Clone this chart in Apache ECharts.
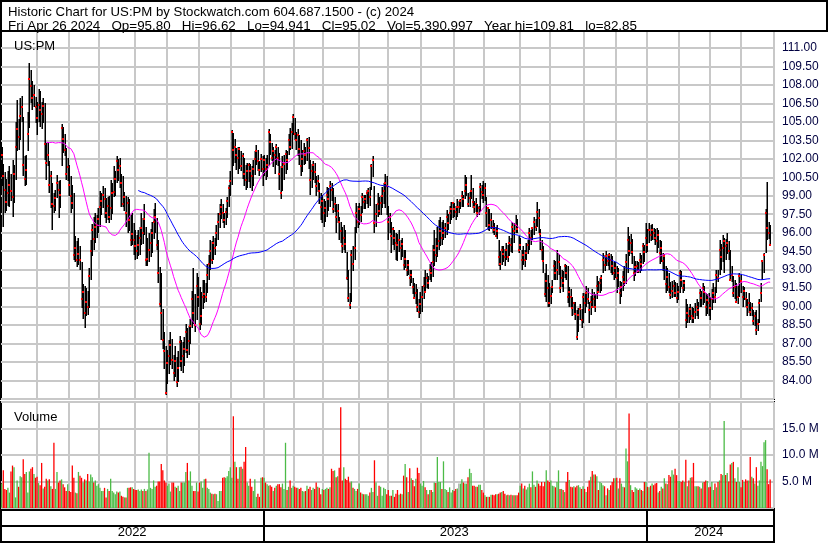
<!DOCTYPE html>
<html>
<head>
<meta charset="utf-8">
<style>
html,body{margin:0;padding:0;background:#fff;}
#chart{width:830px;height:543px;}
</style>
<script src="https://cdn.jsdelivr.net/npm/echarts@6/dist/echarts.min.js"></script>
</head>
<body>
<div id="chart"></div>
<script>
// ---------- DATA ----------
const titleLine1 = "Historic Chart for US:PM by Stockwatch.com 604.687.1500 - (c) 2024";
const titleLine2 = "Fri Apr 26 2024   Op=95.80   Hi=96.62   Lo=94.941   Cl=95.02   Vol=5,390,997   Year hi=109.81   lo=82.85";
const symbolLabel = "US:PM";
const volumeLabel = "Volume";

// trading calendar: first and last session, and exchange holidays in between
const firstDay = "2022-04-28";
const lastDay = "2024-04-26";
const padDays = ["2024-04-29", "2024-04-30"];
const holidays = ["2022-05-30","2022-06-20","2022-07-04","2022-09-05","2022-11-24","2022-12-26",
  "2023-01-02","2023-01-16","2023-02-20","2023-04-07","2023-05-29","2023-06-19","2023-07-04",
  "2023-09-04","2023-11-23","2023-12-25","2024-01-01","2024-01-15","2024-02-19","2024-03-29"];

const close = [
102.3,100.6,99.5,98.5,99.2,99.9,99.4,98.9,100.8,103.0,
104.4,103.8,105.5,106.2,101.5,100.4,101.1,104.0,108.5,107.9,
106.9,107.2,106.2,105.3,106.4,106.0,105.6,106.3,103.2,101.7,
102.3,99.9,100.6,98.3,98.2,98.8,100.0,99.5,99.1,104.5,
103.6,102.7,100.8,101.3,99.9,99.0,98.4,94.2,94.8,93.8,
94.3,93.8,90.6,91.2,89.5,90.4,90.0,92.5,94.5,96.2,
95.5,96.5,96.6,97.1,98.1,98.6,99.1,98.7,97.6,98.2,
97.3,98.0,99.2,99.3,100.4,101.8,101.1,101.4,100.0,98.3,
98.9,97.6,98.4,97.0,95.4,95.9,95.4,94.9,94.5,95.0,
95.6,96.4,96.0,97.1,93.8,93.9,94.6,95.2,96.0,96.9,
97.3,95.0,92.7,90.2,89.5,87.3,86.4,83.0,85.4,86.0,
86.9,85.7,84.6,85.6,83.9,85.0,87.1,85.6,86.0,86.6,
87.9,86.5,87.2,88.4,90.6,89.5,88.5,91.7,90.8,88.6,
89.2,90.8,91.0,90.8,92.6,93.5,94.5,93.8,95.2,94.8,
96.0,96.9,97.5,98.1,97.6,97.0,97.7,98.6,99.6,100.2,
104.2,102.7,103.0,102.3,102.1,102.8,101.4,102.2,100.8,100.3,
101.0,101.5,101.0,100.6,101.2,102.0,102.6,101.8,101.1,102.0,
101.2,101.9,101.2,101.5,104.2,103.4,102.1,102.6,102.3,103.0,
102.1,100.8,99.2,101.3,101.6,102.4,101.9,103.5,103.0,104.2,
105.4,104.0,103.5,103.9,102.8,101.4,102.0,102.6,102.3,103.5,
102.9,100.3,101.0,101.5,100.9,99.8,100.2,99.4,98.1,98.6,
97.6,98.0,99.1,98.7,99.8,99.5,97.9,98.3,97.3,97.8,
96.9,96.1,94.9,95.6,95.1,92.3,90.7,90.1,94.2,93.5,
94.8,97.6,96.9,97.9,97.4,98.9,98.5,98.7,99.2,99.35,
98.9,101.4,101.9,96.8,97.5,98.3,97.8,98.4,99.0,99.35,
100.0,99.8,96.9,97.3,95.7,96.3,95.6,95.2,95.0,95.4,
94.8,95.1,93.4,93.9,93.0,93.4,92.3,92.6,91.6,90.7,
91.1,90.0,89.6,90.2,90.8,91.65,91.2,92.3,91.9,93.0,
92.7,93.6,94.6,94.2,94.9,95.3,96.1,95.6,96.0,96.4,
97.3,96.8,97.6,97.9,98.4,97.9,97.7,98.1,98.1,98.6,
99.0,98.7,99.35,99.9,98.3,98.8,99.35,98.5,98.1,98.3,
97.6,98.0,99.75,99.3,99.1,99.6,97.6,98.0,96.65,97.0,
96.5,96.2,95.75,96.1,94.0,93.5,94.6,94.3,94.0,94.6,
94.0,95.2,95.0,96.5,96.1,96.65,96.3,94.6,95.0,93.8,
94.2,93.8,94.35,95.0,96.0,95.6,96.4,96.9,96.5,97.7,
97.2,95.9,94.6,93.7,91.0,92.05,91.5,90.3,90.9,91.6,
93.3,92.7,93.0,93.6,91.5,92.3,91.9,93.3,92.7,90.8,
91.2,90.8,89.9,90.3,89.4,87.5,89.35,89.8,88.95,90.8,
90.3,91.1,90.6,89.75,90.4,90.0,90.6,90.0,91.65,91.2,
91.9,92.3,93.8,93.4,94.1,93.7,94.2,93.8,93.3,92.7,
93.1,92.3,92.7,91.1,91.6,92.4,92.0,93.6,95.4,94.5,
95.2,94.4,92.7,93.2,93.3,92.9,93.8,93.5,94.9,94.4,
95.6,95.0,96.2,95.8,96.2,96.0,95.6,95.3,95.8,94.35,
94.8,93.7,94.1,91.8,92.4,91.6,90.95,91.3,91.65,91.1,
90.7,91.2,92.7,92.2,91.5,91.9,88.95,89.5,89.2,89.8,
89.2,89.1,89.6,90.0,89.7,91.1,90.7,91.5,91.2,90.0,
90.5,90.3,89.9,90.6,91.1,90.8,92.6,92.3,94.6,94.0,
94.8,95.3,94.9,95.2,94.5,92.2,92.6,91.1,91.6,90.4,
90.8,92.5,92.1,90.8,91.3,90.6,90.0,90.3,89.6,89.9,
88.8,89.2,88.1,88.6,90.3,91.1,93.7,94.2,97.6,96.4,96.0,95.02];

const high = [
103.0,101.6,100.9,100.4,101.0,101.4,100.8,101.9,101.5,105.0,
106.8,105.2,106.9,107.1,105.4,102.2,102.3,105.8,109.81,109.2,
108.3,108.0,107.0,106.6,107.7,107.5,106.6,106.9,106.5,103.3,
103.4,101.8,101.0,100.0,99.2,99.5,100.7,100.2,100.3,104.8,
104.6,104.0,102.9,102.1,101.5,100.6,99.9,99.2,95.7,95.3,
95.6,94.9,93.6,91.8,91.7,91.5,91.3,93.1,95.4,96.7,
97.3,97.6,97.4,98.0,99.35,99.2,99.8,99.6,98.8,98.9,
99.0,100.3,100.0,101.4,101.0,102.2,102.0,102.1,100.8,100.6,
99.3,99.0,98.9,98.7,97.4,97.6,96.8,96.2,95.8,96.2,
96.5,97.6,97.2,98.3,96.5,95.6,96.0,96.3,96.9,97.9,
98.4,97.2,95.4,93.2,92.7,89.8,87.9,86.8,86.5,87.3,
87.9,87.4,86.1,86.8,85.9,86.4,87.6,87.3,87.1,87.5,
88.6,88.3,88.4,89.0,91.3,93.1,91.0,92.7,92.4,91.6,
91.2,92.2,92.2,91.9,93.5,94.2,95.4,95.3,95.7,95.6,
96.6,97.6,98.3,98.7,98.3,97.6,98.0,98.9,99.9,101.0,
104.3,104.1,103.6,102.9,103.0,103.0,102.6,102.5,102.1,101.5,
101.7,101.65,101.6,101.4,101.9,102.6,103.1,102.7,101.8,102.4,
102.2,102.3,102.1,102.3,104.4,104.0,103.3,103.0,102.7,103.2,
103.0,102.5,101.4,102.2,102.3,102.7,102.6,104.0,104.5,104.9,
105.6,105.3,104.2,104.4,103.9,103.5,102.7,103.3,103.0,103.7,
103.8,101.9,101.6,101.8,101.7,100.6,100.7,100.0,99.2,99.1,
98.7,98.6,99.75,99.6,100.2,100.0,99.6,98.9,98.3,98.3,
97.3,96.9,96.5,96.6,96.2,94.4,93.0,91.1,94.6,94.9,
96.5,98.4,98.2,98.4,98.2,99.2,99.1,99.1,99.5,99.6,
99.7,101.6,102.2,99.8,98.3,99.2,98.9,99.0,99.75,100.0,
100.8,100.6,98.2,97.6,96.9,96.5,96.2,96.0,95.9,96.2,
95.4,95.6,94.6,94.6,93.8,93.8,93.0,93.0,92.3,91.9,
91.8,91.4,90.6,91.2,91.65,92.4,93.0,92.7,92.5,93.5,
93.6,95.0,96.2,95.6,96.5,97.0,97.3,96.9,97.05,96.8,
97.85,97.5,98.2,98.5,98.5,98.4,98.2,98.7,98.6,98.7,
99.4,99.1,100.7,100.5,99.2,99.3,100.7,99.6,98.6,98.8,
98.3,98.2,100.0,99.9,100.2,100.0,98.9,98.1,97.9,97.6,
97.05,96.8,96.5,96.6,95.4,94.5,94.9,94.9,94.7,95.2,
95.0,95.7,95.6,96.9,96.8,97.45,97.1,95.7,95.6,94.6,
94.9,94.6,95.2,95.4,96.4,96.2,96.5,97.3,97.1,98.5,
97.9,96.3,95.4,94.9,92.7,93.5,92.6,91.9,91.6,92.2,
93.8,93.7,94.6,94.3,93.3,93.0,92.9,93.5,93.4,93.3,
91.6,91.4,90.8,90.3,90.4,89.75,89.9,90.2,89.8,91.1,
91.1,91.65,91.5,90.4,90.9,91.4,91.2,91.0,92.45,92.1,
92.3,92.6,94.35,94.2,94.5,94.3,94.35,94.3,94.1,93.6,
93.6,93.3,93.1,92.05,92.0,92.9,93.3,94.3,96.5,95.7,
95.9,95.5,94.1,93.7,93.7,93.6,94.35,94.2,95.2,95.0,
96.8,96.3,96.8,96.6,96.7,96.4,96.3,96.4,96.2,95.4,
95.3,94.35,94.3,93.3,93.1,92.7,92.0,92.1,92.2,92.0,
91.9,91.7,93.0,92.9,92.2,92.2,90.6,90.2,90.0,90.2,
90.0,89.9,90.3,90.6,90.4,91.4,91.3,91.9,91.7,91.1,
91.0,91.1,90.8,91.4,91.9,91.6,93.0,93.0,95.4,95.1,
95.8,95.6,95.5,96.0,95.3,94.6,93.3,92.45,92.2,91.9,
91.7,92.7,92.6,91.65,91.6,91.2,90.6,91.1,90.4,90.3,
89.75,89.6,89.75,89.0,90.6,91.9,93.8,94.35,97.9,100.1,96.9,96.62];

const low = [
99.8,96.5,97.6,97.8,98.2,98.1,98.6,97.3,98.4,100.3,
102.6,102.7,103.5,105.0,100.6,99.8,99.9,102.6,104.5,106.5,
106.0,106.2,104.9,103.9,105.0,104.6,104.4,104.9,101.9,100.3,
101.4,99.2,98.0,96.2,97.6,97.8,98.8,97.2,98.0,101.4,
102.5,102.2,100.3,100.2,99.0,97.6,97.9,93.8,93.6,93.2,
93.4,93.0,89.9,89.0,88.3,89.2,89.3,89.9,92.2,94.1,
94.6,95.2,95.6,96.0,96.5,97.4,98.0,97.2,96.8,97.0,
96.8,97.0,97.5,98.9,99.0,100.0,100.2,99.6,98.1,98.1,
97.8,96.5,96.0,96.1,94.9,95.0,94.2,93.8,93.9,94.1,
94.2,95.0,95.1,95.8,93.3,93.3,93.6,94.0,94.35,95.5,
96.0,94.6,91.9,90.0,87.3,86.6,84.9,82.85,83.7,84.5,
85.3,84.9,84.0,84.3,83.5,83.9,85.1,84.8,84.6,85.2,
86.2,85.8,86.1,87.0,88.3,88.6,87.9,88.9,90.0,88.1,
88.5,89.8,90.3,90.4,91.1,92.2,93.0,93.5,93.8,94.2,
94.9,95.4,96.4,97.1,96.8,96.4,96.6,97.2,98.1,99.0,
99.9,101.4,101.7,101.1,100.8,101.2,101.0,100.4,99.8,99.5,
99.6,100.1,99.6,99.35,99.8,100.7,101.5,101.0,100.6,100.9,
99.8,100.6,100.3,100.5,101.4,102.3,101.8,101.3,100.8,101.5,
101.4,99.5,98.7,99.4,100.3,100.8,101.1,102.3,102.7,102.8,
103.9,103.5,102.7,102.2,101.5,100.6,100.9,101.5,101.6,101.8,
101.2,99.1,99.6,100.3,100.0,99.0,99.3,98.3,97.0,96.8,
96.5,96.9,97.3,97.8,98.1,98.6,97.6,97.7,96.0,96.8,
95.4,95.2,94.35,94.6,94.35,92.2,90.4,89.8,90.4,92.9,
93.8,96.0,96.4,96.65,96.9,97.6,97.9,97.9,98.3,98.0,
98.2,99.5,100.5,96.0,96.5,97.3,97.4,97.45,98.0,98.3,
98.0,97.4,95.4,96.0,94.35,95.0,94.6,93.8,93.7,94.4,
93.8,94.0,93.0,93.1,92.5,92.6,91.65,91.9,91.0,90.6,
90.2,89.6,89.1,89.4,89.6,90.6,91.1,91.5,91.4,92.2,
92.0,92.4,93.3,93.6,94.0,94.6,94.9,95.0,95.4,95.6,
95.8,96.2,96.7,97.05,97.2,97.3,97.0,97.3,97.6,97.9,
98.1,98.1,98.7,99.0,98.1,98.1,98.7,98.0,97.6,97.7,
97.3,97.4,97.7,98.7,98.4,98.6,96.5,96.2,96.1,96.3,
96.0,95.8,95.7,95.5,93.3,93.0,93.4,93.6,93.3,93.8,
93.6,94.1,94.4,94.35,95.2,96.0,96.0,94.35,94.6,93.0,
93.4,93.2,93.8,94.3,94.6,95.0,95.4,95.8,96.1,96.5,
96.0,94.6,93.8,92.7,90.8,90.4,90.0,90.0,90.2,91.1,
92.2,92.2,92.2,92.6,91.1,91.6,91.2,92.3,92.2,90.3,
90.0,90.0,89.2,89.3,88.9,87.3,87.9,88.9,88.3,88.7,
89.5,90.0,90.2,88.65,89.3,89.9,89.9,89.6,90.6,91.1,
91.1,91.3,92.7,92.9,93.3,93.3,93.0,92.7,92.6,92.2,
92.3,91.1,91.6,90.2,90.8,91.3,91.65,91.8,92.7,94.1,
94.3,93.5,92.05,92.5,92.7,92.7,92.7,92.9,93.5,93.6,
94.35,94.4,95.2,95.3,95.4,95.4,95.0,94.35,94.8,93.5,
93.6,92.9,92.2,91.1,91.3,91.1,90.6,90.7,90.8,90.8,
90.3,90.5,91.1,91.6,91.1,91.3,88.3,88.7,88.65,88.9,
88.65,88.7,89.0,89.2,89.0,90.0,90.0,90.1,90.3,89.2,
89.4,89.2,88.95,89.7,90.3,90.3,91.1,92.0,92.6,93.0,
93.6,92.7,93.8,94.3,93.8,92.2,92.0,90.8,90.6,90.3,
90.2,90.8,91.1,90.0,90.5,90.0,89.2,89.5,89.2,89.2,
88.5,88.4,87.7,88.0,88.65,90.4,92.2,92.7,94.35,95.4,95.5,94.94];

// volume in millions of shares
const volume = [
4.6,7.1,3.6,3.4,3.8,2.9,6.9,8.0,7.7,2.0,
5.2,4.0,6.0,5.8,9.2,6.4,6.8,2.9,6.9,7.4,
7.7,6.4,5.7,5.9,4.7,4.3,8.5,3.7,4.0,5.5,
5.2,5.4,4.1,3.6,12.3,3.6,6.8,4.8,5.2,5.4,
4.5,3.9,3.2,4.5,3.2,3.0,8.0,5.7,2.9,2.8,
6.8,6.1,5.7,4.8,5.4,5.2,6.4,5.0,6.3,5.8,
4.8,5.2,4.2,4.5,3.8,3.2,3.2,3.8,2.0,3.6,
3.2,5.5,3.2,2.9,2.6,3.1,2.9,3.1,2.3,2.1,
2.0,2.0,3.8,3.8,3.9,3.9,3.6,3.4,3.4,3.5,
3.2,3.5,3.2,3.6,3.2,3.5,10.4,3.8,3.6,5.2,
4.0,4.2,5.0,5.0,8.3,7.1,5.2,4.8,4.2,4.6,
3.1,4.8,4.8,4.0,3.8,4.2,3.2,4.8,4.8,4.8,
6.8,8.5,5.2,6.9,4.2,3.2,3.2,4.8,3.1,4.8,
5.0,3.8,5.4,5.5,3.8,3.6,2.9,2.7,2.6,2.7,
2.6,1.3,3.2,3.2,5.7,5.8,5.7,6.0,7.0,7.7,
5.7,17.3,8.7,7.7,5.5,7.7,7.8,7.4,8.7,11.5,
4.8,4.2,5.5,4.0,3.2,5.4,2.1,2.7,2.1,5.7,
5.8,5.7,4.8,4.5,4.2,4.3,4.0,3.2,3.8,4.2,
4.5,4.5,3.9,4.6,3.6,12.3,3.4,4.0,5.2,3.8,
4.2,4.0,3.8,3.8,3.6,3.8,3.2,3.1,3.2,4.2,
3.6,4.0,3.4,3.8,3.6,4.8,4.0,3.8,2.6,3.6,
3.4,3.6,3.8,3.6,3.9,7.4,7.0,7.1,5.8,6.0,
7.6,19.0,5.2,7.7,5.5,5.3,5.9,4.8,5.0,3.8,
3.6,3.2,3.6,4.6,2.9,2.7,2.6,2.6,2.6,2.3,
2.9,3.8,3.0,9.0,4.8,2.3,4.2,4.0,2.3,3.8,
3.6,2.6,3.4,2.3,2.3,3.4,2.1,2.7,3.4,2.5,
2.7,2.6,6.1,8.3,5.8,3.0,7.5,5.6,5.3,4.1,
5.5,7.6,6.6,4.6,4.2,5.1,3.9,3.4,2.6,3.4,
3.4,3.0,4.8,4.7,9.6,4.9,4.9,3.6,8.8,3.6,
3.4,3.0,3.9,2.9,3.4,3.2,3.6,3.7,4.6,4.6,
5.4,4.8,4.6,4.6,5.8,7.4,6.6,4.2,4.2,4.0,
4.0,4.4,4.4,3.4,2.9,2.4,2.1,2.1,2.1,2.5,
2.5,2.4,2.6,2.6,2.7,2.9,3.0,3.2,2.7,2.4,
2.5,2.4,2.5,2.4,2.4,2.4,2.4,2.9,4.2,4.6,
3.7,4.2,3.5,3.9,4.6,3.9,6.9,4.4,4.0,5.2,
4.6,4.2,4.9,4.1,4.9,7.1,5.2,4.9,5.2,4.2,
4.1,3.9,4.9,7.1,3.6,3.6,3.4,3.0,4.9,6.8,
5.3,4.0,3.9,4.1,3.9,4.2,4.3,3.9,3.6,4.1,
3.6,3.0,4.0,5.2,5.9,7.0,6.3,6.3,6.0,3.4,
4.9,4.7,4.3,4.1,2.4,3.7,3.4,4.3,4.9,5.6,
5.6,5.7,3.7,5.6,4.6,4.0,3.9,11.2,8.8,17.8,
4.3,3.4,3.0,3.9,3.7,3.4,3.7,3.4,3.2,4.9,
4.9,4.0,3.9,4.2,4.6,4.3,4.6,4.7,2.9,3.2,
4.0,3.7,5.6,4.6,4.5,6.2,5.9,7.1,6.3,7.4,
6.2,5.1,5.1,4.9,5.2,4.9,9.1,4.1,5.2,5.7,
5.8,8.5,4.1,4.1,4.1,4.0,3.7,4.8,4.9,5.2,
5.1,3.9,4.0,4.9,3.4,4.6,3.9,4.9,5.2,6.4,
6.2,16.4,6.2,6.6,5.0,8.2,8.5,8.7,5.6,4.9,
7.7,4.9,3.9,5.3,4.9,5.4,5.2,5.2,9.6,5.9,
5.6,4.6,7.7,4.2,5.2,8.7,7.9,12.4,12.8,7.3,4.5,5.39];

const maShortDays = 30;
const maLongDays = 90;
const priceTicks = [84,85.5,87,88.5,90,91.5,93,94.5,96,97.5,99,100.5,102,103.5,105,106.5,108,109.5,111];
const volumeTicks = [5,10,15];

// ---------- BUILD ----------
const FONT = "'Liberation Sans', Arial, sans-serif";
function buildDays() {
  const hol = new Set(holidays);
  const out = [];
  const d = new Date(firstDay + "T00:00:00Z");
  const end = new Date(lastDay + "T00:00:00Z");
  while (d <= end) {
    const wd = d.getUTCDay();
    const s = d.toISOString().slice(0, 10);
    if (wd !== 0 && wd !== 6 && !hol.has(s)) out.push(s);
    d.setUTCDate(d.getUTCDate() + 1);
  }
  return out;
}
const days = buildDays();
const N = close.length;
const cats = days.slice(0, N).concat(padDays);

const monthStart = new Set();
const yearStart = new Set();
const yearMid = new Set();
(function () {
  let segStart = 0;
  for (let i = 1; i < N; i++) {
    if (cats[i].slice(5, 7) !== cats[i - 1].slice(5, 7) && i > 4) monthStart.add(i);
    if (cats[i].slice(0, 4) !== cats[i - 1].slice(0, 4)) {
      yearStart.add(i);
      yearMid.add(Math.floor((segStart + i - 1) / 2));
      segStart = i;
    }
  }
  yearMid.add(Math.floor((segStart + N - 1) / 2));
})();

function sma(arr, n) {
  const out = [];
  let s = 0;
  for (let i = 0; i < arr.length; i++) {
    s += arr[i];
    if (i >= n) s -= arr[i - n];
    out.push(i >= n - 1 ? +(s / n).toFixed(3) : null);
  }
  return out;
}
const maShort = sma(close, maShortDays);
const maLong = sma(close, maLongDays);

const priceData = close.map((c, i) => [i, high[i], low[i], c]);
const volData = volume.map((v, i) => {
  let col = '#4cbb47';
  if (i > 0 && close[i] < close[i - 1]) col = '#ff0000';
  else if (i > 0 && close[i] === close[i - 1]) col = '#a8a8a8';
  return { value: v, itemStyle: { color: col } };
});

const priceSet = new Set(priceTicks.map(v => v.toFixed(2)));
const volSet = new Set(volumeTicks.map(v => v.toFixed(1)));

const gridLine = { show: true, lineStyle: { color: '#c8c8c8', width: 2 } };
const txt = { fontSize: 13, fontWeight: 'normal', color: '#000', fontFamily: FONT };

const chart = echarts.init(document.getElementById('chart'), null, { renderer: 'canvas' });
chart.setOption({
  animation: false,
  backgroundColor: '#ffffff',
  title: [
    { text: titleLine1, left: 3, top: 1, textStyle: Object.assign({}, txt, { fontSize: 13.2 }) },
    { text: titleLine2, left: 3, top: 15, textStyle: Object.assign({}, txt, { fontSize: 13.4 }) },
    { text: symbolLabel, left: 9, top: 35, textStyle: txt },
    { text: volumeLabel, left: 9, top: 406, textStyle: txt }
  ],
  graphic: [
    { type: 'rect', shape: { x: 1, y: 1, width: 826, height: 30 }, style: { fill: 'none', stroke: '#000', lineWidth: 2 }, z: 100 }
  ],
  grid: [
    { left: 1, top: 31, width: 773, height: 368, show: true, borderColor: '#000', borderWidth: 2 },
    { left: 1, top: 402, width: 773, height: 106, show: true, borderColor: '#000', borderWidth: 2 },
    { left: 1, top: 510, width: 773, height: 32, show: true, borderColor: '#000', borderWidth: 2 }
  ],
  xAxis: [
    { gridIndex: 0, type: 'category', data: cats, boundaryGap: true,
      axisLine: { show: false }, axisTick: { show: false }, axisLabel: { show: false },
      splitLine: Object.assign({ interval: (i) => monthStart.has(i) }, gridLine) },
    { gridIndex: 1, type: 'category', data: cats, boundaryGap: true,
      axisLine: { show: false }, axisTick: { show: false }, axisLabel: { show: false },
      splitLine: Object.assign({ interval: (i) => monthStart.has(i) }, gridLine) },
    { gridIndex: 2, type: 'category', data: cats, boundaryGap: true,
      axisLine: { show: false }, axisTick: { show: false },
      axisLabel: { show: true, inside: true, margin: 3, interval: (i) => yearMid.has(i),
        formatter: (v) => v.slice(0, 4), fontSize: 13, color: '#000', fontFamily: FONT },
      splitLine: { show: true, interval: (i) => yearStart.has(i), lineStyle: { color: '#000', width: 2 } } }
  ],
  yAxis: [
    { gridIndex: 0, type: 'value', position: 'right', min: 82.5, max: 112.378, interval: 1.5,
      axisLine: { show: false }, axisTick: { show: false },
      axisLabel: { margin: 8, fontSize: 12, color: '#000040', fontFamily: FONT, showMinLabel: false, showMaxLabel: false,
        formatter: (v) => priceSet.has(v.toFixed(2)) ? v.toFixed(2) : '' },
      splitLine: gridLine },
    { gridIndex: 1, type: 'value', position: 'right', min: 0, max: 19.99, interval: 5,
      axisLine: { show: false }, axisTick: { show: false },
      axisLabel: { margin: 8, fontSize: 12, color: '#000040', fontFamily: FONT, showMinLabel: false, showMaxLabel: false,
        formatter: (v) => volSet.has(v.toFixed(1)) ? v.toFixed(1) + ' M' : '' },
      splitLine: gridLine },
    { gridIndex: 2, type: 'value', min: 0, max: 2, interval: 1,
      axisLine: { show: false }, axisTick: { show: false }, axisLabel: { show: false },
      splitLine: { show: true, lineStyle: { color: '#000', width: 2 } } }
  ],
  series: [
    { type: 'custom', xAxisIndex: 0, yAxisIndex: 0, data: priceData, encode: { x: 0, y: [1, 2, 3] },
      renderItem: function (params, api) {
        const i = api.value(0), h = api.value(1), l = api.value(2), c = api.value(3);
        const top = api.coord([i, Math.max(h, c)]);
        const bot = api.coord([i, Math.min(l, c)]);
        const pc = api.coord([i, c]);
        const x = Math.round(top[0]);
        return { type: 'group', children: [
          { type: 'rect', shape: { x: x - 0.5, y: Math.round(top[1]), width: 1.5, height: Math.max(1, Math.round(bot[1]) - Math.round(top[1])) }, style: { fill: '#000' } },
          { type: 'rect', shape: { x: x - 1, y: Math.round(pc[1]) - 1, width: 2, height: 2 }, style: { fill: '#ff0000' } }
        ] };
      }, z: 2 },
    { type: 'line', xAxisIndex: 0, yAxisIndex: 0, data: maShort, symbol: 'none', connectNulls: false,
      lineStyle: { color: '#ff00ff', width: 1 }, z: 3 },
    { type: 'line', xAxisIndex: 0, yAxisIndex: 0, data: maLong, symbol: 'none', connectNulls: false,
      lineStyle: { color: '#0000ff', width: 1 }, z: 3 },
    { type: 'bar', xAxisIndex: 1, yAxisIndex: 1, data: volData, barWidth: '85%', z: 2 }
  ]
});
</script>
</body>
</html>
